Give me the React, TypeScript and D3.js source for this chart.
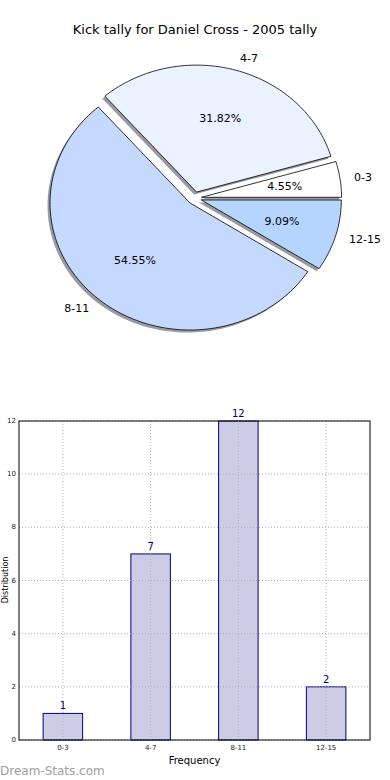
import React, { useEffect, useRef } from 'react';
import * as d3 from 'd3';

const categories = ['0-3', '4-7', '8-11', '12-15'];
const counts = [1, 7, 12, 2];
const sliceColors = ['#ffffff', '#eaf1ff', '#c5d9ff', '#b5d5ff'];
const yTicks = [0, 2, 4, 6, 8, 10, 12];

export default function App() {
  const ref = useRef<SVGSVGElement | null>(null);

  useEffect(() => {
    const svg = d3.select(ref.current);
    svg.selectAll('*').remove();
    const font = 'DejaVu Sans, sans-serif';

    // title
    svg.append('text')
      .attr('x', 195).attr('y', 34)
      .attr('text-anchor', 'middle')
      .style('font-family', font).style('font-size', '13px')
      .text('Kick tally for Daniel Cross - 2005 tally');

    // pie (matplotlib-style: ccw from 3 o'clock, slightly elliptical)
    const cx = 194.6, cy = 198.2, rx = 140, ry = 127, explode = 0.05;
    const total = d3.sum(counts);
    const pie = d3.pie<number>().sort(null)
      .startAngle(Math.PI / 2).endAngle(Math.PI / 2 - 2 * Math.PI);
    const arcs = pie(counts);

    const pt = (a: number, r: number, mid: number): [number, number] => [
      cx + rx * (explode * Math.sin(mid) + r * Math.sin(a)),
      cy - ry * (explode * Math.cos(mid) + r * Math.cos(a)),
    ];

    const slicePath = (d: d3.PieArcDatum<number>) => {
      const mid = (d.startAngle + d.endAngle) / 2;
      const steps = Math.max(8, Math.ceil(Math.abs(d.endAngle - d.startAngle) * 40));
      const pts: [number, number][] = [pt(0, 0, mid)];
      d3.range(steps + 1).forEach(i => {
        const a = d.startAngle + (d.endAngle - d.startAngle) * (i / steps);
        pts.push(pt(a, 1, mid));
      });
      return d3.line()(pts) + 'Z';
    };

    const pieG = svg.append('g');
    pieG.selectAll('path.shadow')
      .data(arcs).join('path')
      .attr('class', 'shadow')
      .attr('d', slicePath)
      .attr('transform', 'translate(-2.5,2.5)')
      .attr('fill', '#9a9aa0');

    pieG.selectAll('path.slice')
      .data(arcs).join('path')
      .attr('class', 'slice')
      .attr('d', slicePath)
      .attr('fill', (_, i) => sliceColors[i])
      .attr('stroke', '#000')
      .attr('stroke-width', 0.8)
      .attr('stroke-linejoin', 'round');

    arcs.forEach((d, i) => {
      const mid = (d.startAngle + d.endAngle) / 2;
      const [lx, ly] = pt(mid, 1.1, mid);
      pieG.append('text')
        .attr('x', lx).attr('y', ly)
        .attr('text-anchor', Math.sin(mid) > 0 ? 'start' : 'end')
        .attr('dominant-baseline', 'central')
        .style('font-family', font).style('font-size', '11px')
        .text(categories[i]);
      const [px, py] = pt(mid, 0.6, mid);
      pieG.append('text')
        .attr('x', px).attr('y', py)
        .attr('text-anchor', 'middle')
        .attr('dominant-baseline', 'central')
        .style('font-family', font).style('font-size', '11px')
        .text((counts[i] / total * 100).toFixed(2) + '%');
    });

    // bar chart
    const left = 19, right = 370, top = 421, bottom = 740;
    const x = d3.scaleLinear().domain([-0.5, 3.5]).range([left, right]);
    const y = d3.scaleLinear().domain([0, 12]).range([bottom, top]);
    const bw = (x(1) - x(0)) * 0.45;

    const g = svg.append('g');

    g.selectAll('rect.bar')
      .data(counts).join('rect')
      .attr('class', 'bar')
      .attr('x', (_, i) => x(i) - bw / 2)
      .attr('y', d => y(d))
      .attr('width', bw)
      .attr('height', d => bottom - y(d))
      .attr('fill', '#ccccE6')
      .attr('stroke', '#000080')
      .attr('stroke-width', 1);

    // grid
    g.selectAll('line.hgrid')
      .data(yTicks).join('line')
      .attr('x1', left).attr('x2', right)
      .attr('y1', d => y(d)).attr('y2', d => y(d))
      .attr('stroke', '#b0b0b0').attr('stroke-dasharray', '1,2');
    g.selectAll('line.vgrid')
      .data(categories).join('line')
      .attr('x1', (_, i) => x(i)).attr('x2', (_, i) => x(i))
      .attr('y1', top).attr('y2', bottom)
      .attr('stroke', '#b0b0b0').attr('stroke-dasharray', '1,2');

    g.append('rect')
      .attr('x', left).attr('y', top)
      .attr('width', right - left).attr('height', bottom - top)
      .attr('fill', 'none').attr('stroke', '#000').attr('stroke-width', 1);

    g.selectAll('text.val')
      .data(counts).join('text')
      .attr('x', (_, i) => x(i)).attr('y', d => y(d) - 4)
      .attr('text-anchor', 'middle')
      .attr('fill', '#000080')
      .style('font-family', font).style('font-size', '10px')
      .text(d => d);

    g.selectAll('text.ytick')
      .data(yTicks).join('text')
      .attr('x', left - 3).attr('y', d => y(d))
      .attr('text-anchor', 'end')
      .attr('dominant-baseline', 'central')
      .attr('fill', '#222')
      .style('font-family', font).style('font-size', '7px')
      .text(d => d);

    g.selectAll('text.xtick')
      .data(categories).join('text')
      .attr('x', (_, i) => x(i)).attr('y', bottom + 10)
      .attr('text-anchor', 'middle')
      .attr('fill', '#222')
      .style('font-family', font).style('font-size', '7px')
      .text(d => d);

    g.append('text')
      .attr('x', (left + right) / 2).attr('y', 764)
      .attr('text-anchor', 'middle')
      .style('font-family', font).style('font-size', '10px')
      .text('Frequency');

    g.append('text')
      .attr('transform', 'translate(8,580) rotate(-90)')
      .attr('text-anchor', 'middle')
      .style('font-family', font).style('font-size', '8px')
      .text('Distribution');

    svg.append('text')
      .attr('x', 0).attr('y', 775)
      .attr('fill', '#a0a0a0')
      .style('font-family', font).style('font-size', '12px')
      .text('Dream-Stats.com');
  }, []);

  return (
    <div style={{ position: 'absolute', left: 0, top: 0, width: 390, height: 780, background: '#fff' }}>
      <svg ref={ref} width={390} height={780} />
    </div>
  );
}
